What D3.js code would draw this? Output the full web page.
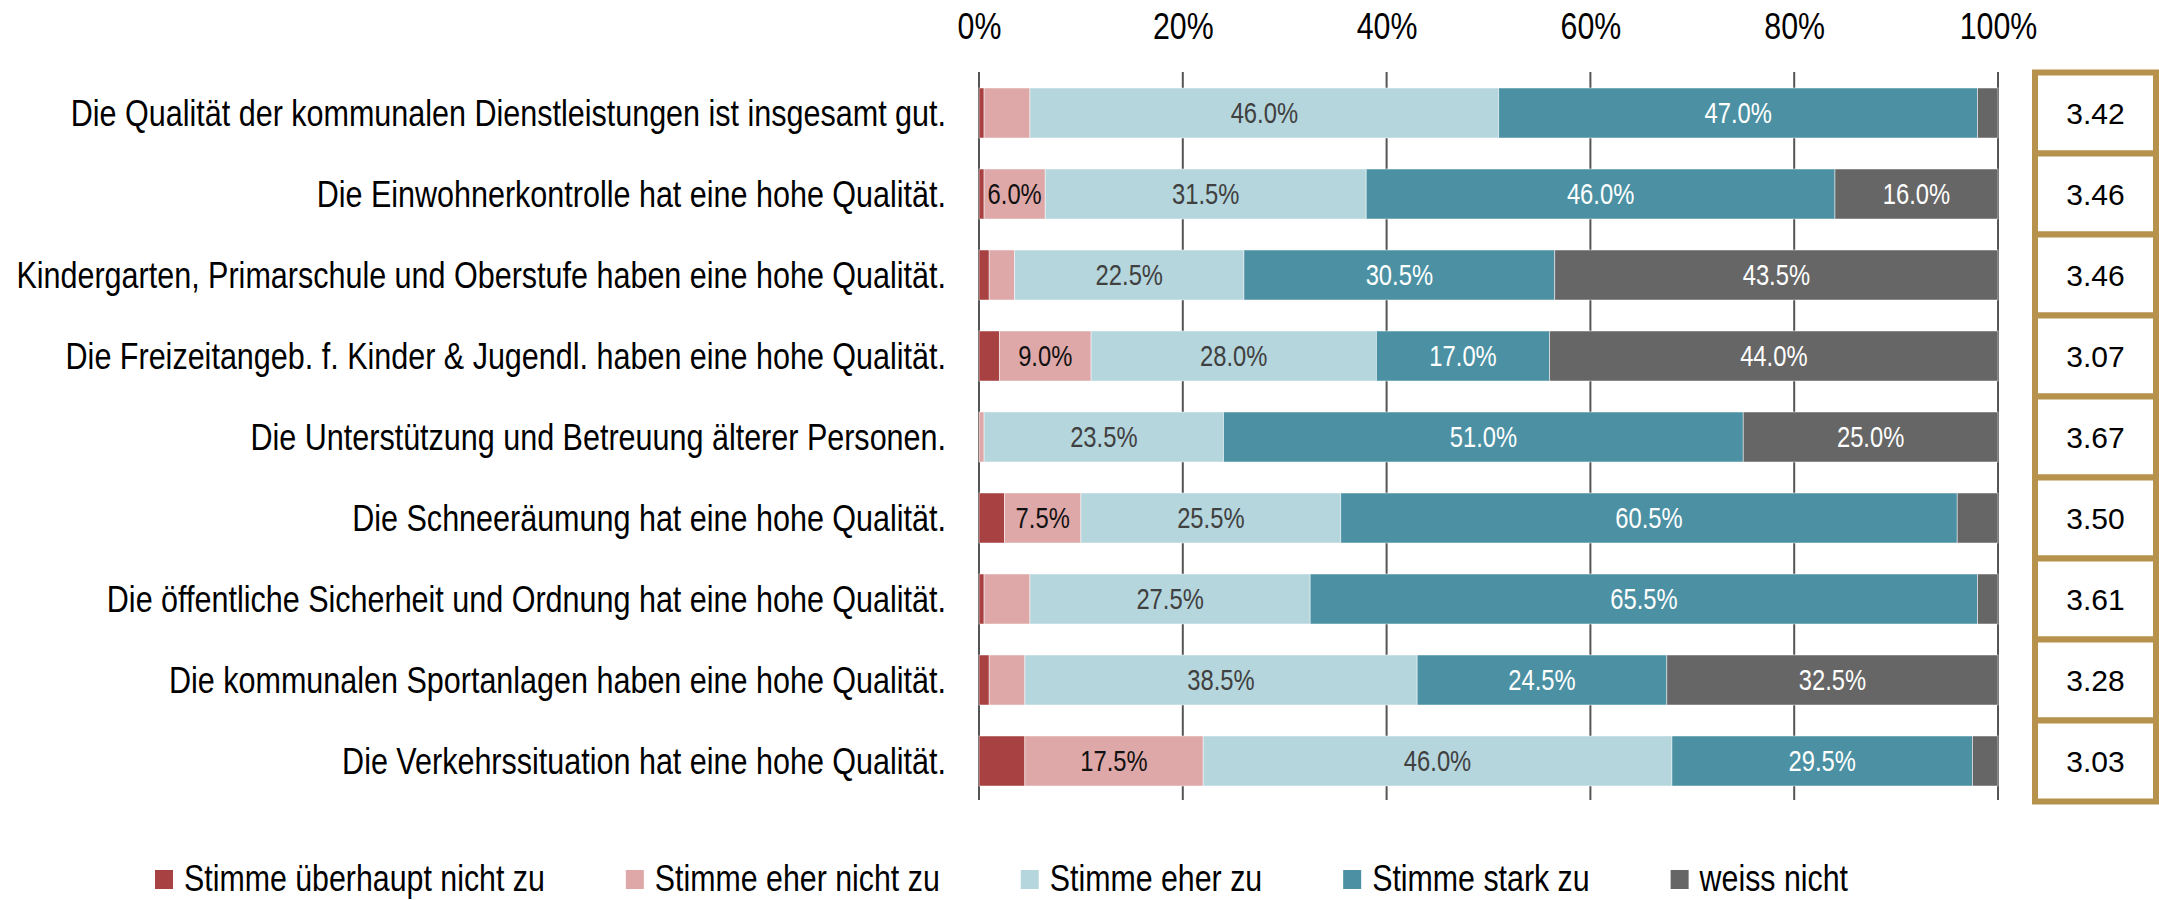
<!DOCTYPE html>
<html>
<head>
<meta charset="utf-8">
<script src="https://cdn.jsdelivr.net/npm/d3@7"></script>
<style>
  html, body { margin: 0; padding: 0; background: #ffffff; }
  svg { display: block; }
</style>
</head>
<body>
<svg id="chart" width="2159" height="900"></svg>
<script>
// ---------- data ----------
const categories = [
  "Die Qualität der kommunalen Dienstleistungen ist insgesamt gut.",
  "Die Einwohnerkontrolle hat eine hohe Qualität.",
  "Kindergarten, Primarschule und Oberstufe haben eine hohe Qualität.",
  "Die Freizeitangeb. f. Kinder & Jugendl. haben eine hohe Qualität.",
  "Die Unterstützung und Betreuung älterer Personen.",
  "Die Schneeräumung hat eine hohe Qualität.",
  "Die öffentliche Sicherheit und Ordnung hat eine hohe Qualität.",
  "Die kommunalen Sportanlagen haben eine hohe Qualität.",
  "Die Verkehrssituation hat eine hohe Qualität."
];
const seriesNames = [
  "Stimme überhaupt nicht zu",
  "Stimme eher nicht zu",
  "Stimme eher zu",
  "Stimme stark zu",
  "weiss nicht"
];
const stimmeUeberhauptNicht = [0.5, 0.5, 1.0, 2.0, 0.0, 2.5, 0.5, 1.0, 4.5];
const stimmeEherNicht       = [4.5, 6.0, 2.5, 9.0, 0.5, 7.5, 4.5, 3.5, 17.5];
const stimmeEher            = [46.0, 31.5, 22.5, 28.0, 23.5, 25.5, 27.5, 38.5, 46.0];
const stimmeStark           = [47.0, 46.0, 30.5, 17.0, 51.0, 60.5, 65.5, 24.5, 29.5];
const weissNicht            = [2.0, 16.0, 43.5, 44.0, 25.0, 4.0, 2.0, 32.5, 2.5];
const meanScores = ["3.42", "3.46", "3.46", "3.07", "3.67", "3.50", "3.61", "3.28", "3.03"];
const tickValues = [0, 20, 40, 60, 80, 100];

const seriesValues = [stimmeUeberhauptNicht, stimmeEherNicht, stimmeEher, stimmeStark, weissNicht];
const colors = ["#a84242", "#dfa8a8", "#b5d6dd", "#4b91a3", "#666666"];
const labelColors = ["#ffffff", "#111111", "#404040", "#ffffff", "#ffffff"];
const labelMin = 6;

// ---------- layout ----------
const FONT = '"Liberation Sans", Arial, sans-serif';
const NARROW = 0.82; // horizontal compression to mimic Arial Narrow

const svg = d3.select("#chart");
const x = d3.scaleLinear().domain([0, 100]).range([979, 1998]);
const pad = 31 / 81;
const y = d3.scaleBand().domain(categories).range([72.5, 801.5])
  .paddingInner(pad).paddingOuter(pad / 2);

const nt = (px, py, k = NARROW) => `translate(${px},${py}) scale(${k},1)`;

// build stacked table
const table = categories.map((c, i) => {
  const row = { cat: c };
  seriesNames.forEach((s, j) => row[s] = seriesValues[j][i]);
  return row;
});
const stacked = d3.stack().keys(seriesNames)(table);

// gridlines
svg.append("g").selectAll("line").data(tickValues).join("line")
  .attr("x1", d => x(d)).attr("x2", d => x(d))
  .attr("y1", 72).attr("y2", 800)
  .attr("stroke", "#555555").attr("stroke-width", 2);

// top axis labels
const axis = d3.axisTop(x).tickValues(tickValues).tickFormat(d => d + "%").tickSize(0).tickPadding(0);
const ag = svg.append("g").attr("transform", "translate(0,39)").call(axis);
ag.select(".domain").remove();
ag.selectAll("text").attr("font-family", FONT).attr("font-size", 37)
  .attr("fill", "#000").attr("dy", 0).attr("y", 0)
  .attr("transform", `scale(${NARROW},1)`);

// bars
const layers = svg.append("g").selectAll("g").data(stacked).join("g")
  .attr("fill", (d, i) => colors[i]);
layers.selectAll("rect").data(d => d).join("rect")
  .attr("x", d => x(d[0]))
  .attr("width", d => Math.max(0, x(d[1]) - x(d[0])))
  .attr("y", d => y(d.data.cat))
  .attr("height", y.bandwidth())
  .attr("stroke", "#ffffff").attr("stroke-width", 0.8).attr("stroke-opacity", 0.6);

// bar labels
layers.each(function (layer, li) {
  d3.select(this).selectAll("text").data(layer.filter(d => (d[1] - d[0]) >= labelMin)).join("text")
    .attr("transform", d => nt((x(d[0]) + x(d[1])) / 2, y(d.data.cat) + y.bandwidth() / 2))
    .attr("dy", "0.36em")
    .attr("text-anchor", "middle")
    .attr("font-family", FONT).attr("font-size", 29)
    .attr("fill", labelColors[li])
    .text(d => (d[1] - d[0]).toFixed(1) + "%");
});

// category labels
svg.append("g").selectAll("text").data(categories).join("text")
  .attr("transform", d => nt(946, y(d) + y.bandwidth() / 2, 0.825))
  .attr("dy", "0.36em")
  .attr("text-anchor", "end")
  .attr("font-family", FONT).attr("font-size", 37)
  .attr("fill", "#000")
  .text(d => d);

// mean score boxes
const step = y.step();
const boxes = svg.append("g").selectAll("g").data(categories).join("g");
boxes.append("rect")
  .attr("x", 2035).attr("width", 121)
  .attr("y", d => y(d) + y.bandwidth() / 2 - step / 2)
  .attr("height", step)
  .attr("fill", "#ffffff").attr("stroke", "#b7924c").attr("stroke-width", 6);
boxes.append("text")
  .attr("x", 2095.5)
  .attr("y", d => y(d) + y.bandwidth() / 2)
  .attr("dy", "0.36em")
  .attr("text-anchor", "middle")
  .attr("font-family", FONT).attr("font-size", 30)
  .attr("fill", "#000")
  .text((d, i) => meanScores[i]);

// legend
const legend = svg.append("g");
let lx = 155;
seriesNames.forEach((s, i) => {
  legend.append("rect").attr("x", lx).attr("y", 870).attr("width", 18).attr("height", 19)
    .attr("fill", colors[i]);
  const t = legend.append("text").attr("transform", nt(lx + 29, 891))
    .attr("font-family", FONT).attr("font-size", 37).attr("fill", "#000").text(s);
  const w = t.node().getComputedTextLength() * NARROW;
  lx = lx + 29 + w + 81;
});
</script>
</body>
</html>
